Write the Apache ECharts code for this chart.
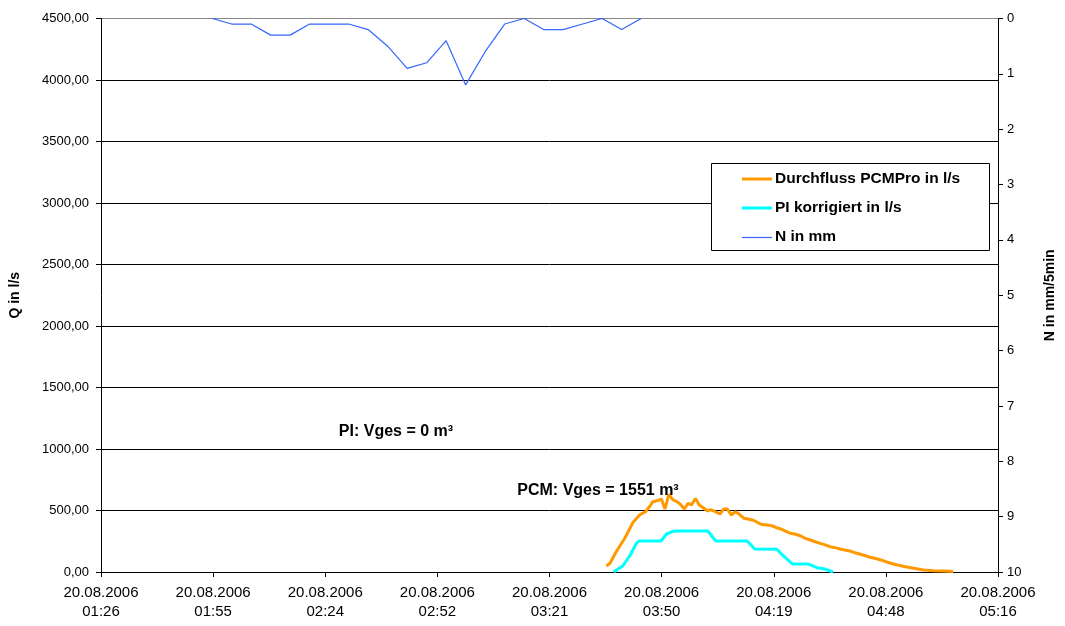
<!DOCTYPE html>
<html><head><meta charset="utf-8">
<script src="https://cdn.jsdelivr.net/npm/echarts@6/dist/echarts.min.js"></script>
<style>html,body{margin:0;padding:0;background:#fff}#c{width:1065px;height:626px}</style>
</head><body><div id="c"></div>
<script>
// x values are minutes after 20.08.2006 01:26
const dateLabel = '20.08.2006';
const xTickLabels = ['01:26','01:55','02:24','02:52','03:21','03:50','04:19','04:48','05:16'];

// Durchfluss PCMPro in l/s
const pcmTime = [129.6,130.5,132.1,134.3,136.4,138.1,139.7,140.7,141.4,142.7,143.7,144.6,145.6,146.6,147.6,148.5,149.6,150.5,151.4,152.4,153.4,154.5,155.5,156.3,157.4,158.7,159.7,160.6,161.6,162.7,163.7,164.8,165.9,167.0,168.0,169.2,170.7,172.0,173.2,174.3,175.5,176.8,178.1,179.3,180.6,181.9,183.1,184.4,185.7,186.9,188.2,189.5,190.7,192.0,193.3,194.5,195.8,197.0,199.1,200.8,202.5,204.2,206.3,208.4,210.9,213.5,216.0,218.5];
const pcmFlow = [49,71,165,274,402,463,492,533,569,581,593,512,630,589,573,553,512,559,545,598,545,520,496,508,492,472,512,512,463,490,469,437,431,423,409,388,382,376,360,350,333,315,307,295,274,260,246,233,220,206,198,187,179,171,157,146,134,122,106,89,71,57,43,30,16,11,8,4];

// PI korrigiert in l/s
const piTime = [131.4,133.8,135.7,137.4,138.1,143.6,145.0,146.5,147.8,155.6,157.6,165.7,167.6,173.3,174.3,177.3,181.4,183.6,185.7,187.7];
const piFlow = [0,49,138,240,252,252,309,329,333,333,252,252,187,185,152,65,65,35,24,0];

// N in mm (5 min)
const nTime = [28.5,33.5,38.5,43.5,48.5,53.5,58.5,63.5,68.5,73.5,78.5,83.5,88.5,93.5,98.5,103.5,108.5,113.5,118.5,123.5,128.5,133.5,138.5];
const nValues = [0,0.1,0.1,0.3,0.3,0.1,0.1,0.1,0.2,0.5,0.9,0.8,0.4,1.2,0.6,0.1,0,0.2,0.2,0.1,0,0.2,0];

const seriesNames = ['Durchfluss PCMPro in l/s','PI korrigiert in l/s','N in mm'];
const seriesColors = ['#FF9900','#00FFFF','#3366FF'];
const annotations = ['PI: Vges = 0 m³','PCM: Vges = 1551 m³'];

const zip = (a,b) => a.map((v,i) => [v,b[i]]);
const FONT = 'Liberation Sans, Arial, sans-serif';
const tickStep = 28.75;

const chart = echarts.init(document.getElementById('c'), null, {renderer:'canvas'});
const gridColors = ['#000','#000','#000','#000','#000','#000','#000','#000','#000','#888'];

chart.setOption({
  animation:false,
  backgroundColor:'#fff',
  grid:{left:100.7,right:53.5,top:18.5,bottom:54,containLabel:false},
  xAxis:{
    type:'value',min:0,max:230,interval:tickStep,
    axisLine:{show:true,lineStyle:{color:'#000',width:1}},
    axisTick:{show:true,length:5,lineStyle:{color:'#000'}},
    splitLine:{show:false},
    axisLabel:{
      show:true,showMinLabel:true,showMaxLabel:true,margin:11,
      fontFamily:FONT,fontSize:15,color:'#000',lineHeight:19,
      formatter:v => dateLabel + '\n' + xTickLabels[Math.round(v/tickStep)]
    }
  },
  yAxis:[{
    type:'value',min:0,max:4500,interval:500,position:'left',
    name:'Q in l/s',nameLocation:'middle',nameRotate:90,nameGap:79,
    nameTextStyle:{fontFamily:FONT,fontSize:14,fontWeight:'bold',color:'#000'},
    axisLine:{show:true,lineStyle:{color:'#000'}},
    axisTick:{show:true,length:5,lineStyle:{color:'#000'}},
    splitLine:{show:true,lineStyle:{color:gridColors,width:1}},
    axisLabel:{fontFamily:FONT,fontSize:13,color:'#000',margin:12,
      formatter:v => v.toFixed(2).replace('.',',')}
  },{
    type:'value',min:0,max:10,interval:1,position:'right',inverse:true,
    name:'N in mm/5min',nameLocation:'middle',nameRotate:90,nameGap:45,
    nameTextStyle:{fontFamily:FONT,fontSize:14,fontWeight:'bold',color:'#000'},
    axisLine:{show:true,lineStyle:{color:'#000'}},
    axisTick:{show:true,length:5,lineStyle:{color:'#000'}},
    splitLine:{show:false},
    axisLabel:{fontFamily:FONT,fontSize:13,color:'#000',margin:9}
  }],
  series:[
    {name:seriesNames[0],type:'line',yAxisIndex:0,data:zip(pcmTime,pcmFlow),symbol:'none',
      lineStyle:{color:seriesColors[0],width:3},z:3},
    {name:seriesNames[1],type:'line',yAxisIndex:0,data:zip(piTime,piFlow),symbol:'none',
      lineStyle:{color:seriesColors[1],width:3},z:3},
    {name:seriesNames[2],type:'line',yAxisIndex:1,data:zip(nTime,nValues),symbol:'none',
      lineStyle:{color:seriesColors[2],width:1.2},z:4}
  ],
  graphic:[
    {type:'rect',left:711,top:163,z:10,shape:{width:278,height:87},
      style:{fill:'#fff',stroke:'#000',lineWidth:1}},
    {type:'line',z:11,shape:{x1:742,y1:179,x2:772,y2:179},style:{stroke:seriesColors[0],lineWidth:3}},
    {type:'line',z:11,shape:{x1:742,y1:208,x2:772,y2:208},style:{stroke:seriesColors[1],lineWidth:3}},
    {type:'line',z:11,shape:{x1:742,y1:237.5,x2:772,y2:237.5},style:{stroke:seriesColors[2],lineWidth:1.2}},
    {type:'text',z:11,x:775,y:179,style:{text:seriesNames[0],font:'bold 15.5px '+FONT,fill:'#000',verticalAlign:'middle'}},
    {type:'text',z:11,x:775,y:208,style:{text:seriesNames[1],font:'bold 15.5px '+FONT,fill:'#000',verticalAlign:'middle'}},
    {type:'text',z:11,x:775,y:237,style:{text:seriesNames[2],font:'bold 15.5px '+FONT,fill:'#000',verticalAlign:'middle'}},
    {type:'text',z:11,x:396,y:432,style:{text:annotations[0],font:'bold 16px '+FONT,fill:'#000',align:'center',verticalAlign:'middle'}},
    {type:'text',z:11,x:598,y:491,style:{text:annotations[1],font:'bold 16px '+FONT,fill:'#000',align:'center',verticalAlign:'middle'}}
  ]
});
</script>
</body></html>
